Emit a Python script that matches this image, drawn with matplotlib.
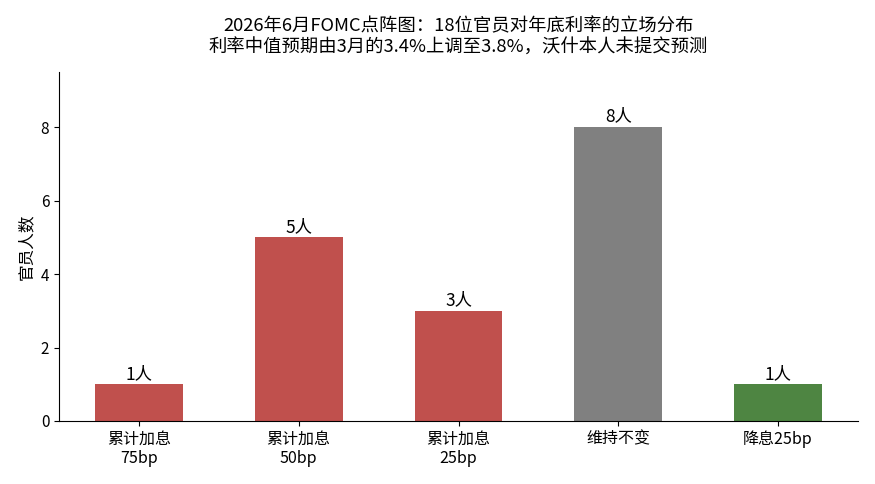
import matplotlib
matplotlib.use("Agg")
import matplotlib.pyplot as plt

plt.rcParams['font.family'] = ['Noto Sans CJK SC', 'DejaVu Sans']

categories = ["累计加息\n75bp", "累计加息\n50bp", "累计加息\n25bp", "维持不变", "降息25bp"]
counts = [1, 5, 3, 8, 1]
colors = ["#C0504D", "#C0504D", "#C0504D", "#808080", "#4E8542"]
bar_labels = [f"{c}人" for c in counts]
title = "2026年6月FOMC点阵图：18位官员对年底利率的立场分布\n利率中值预期由3月的3.4%上调至3.8%，沃什本人未提交预测"

fig = plt.figure(figsize=(8.75, 4.84), dpi=100)
ax = fig.add_axes([0.0674, 0.1302, 0.9132, 0.721])
x = list(range(len(categories)))
bars = ax.bar(x, counts, width=0.55, color=colors)
for b, lab in zip(bars, bar_labels):
    ax.text(b.get_x() + b.get_width() / 2, b.get_height() + 0.04, lab,
            ha='center', va='bottom', fontsize=12.5)
ax.set_xticks(x)
ax.set_xticklabels(categories, fontsize=11.5, linespacing=1.2)
ax.set_xlim(-0.5, 4.5)
ax.set_ylim(0, 9.5)
ax.set_yticks([0, 2, 4, 6, 8])
ax.tick_params(axis='y', labelsize=11)
ax.set_ylabel("官员人数", fontsize=12)
ax.spines['top'].set_visible(False)
ax.spines['right'].set_visible(False)
ax.set_title(title, fontsize=13.2, linespacing=1.2, pad=14)
fig.savefig("out.png", dpi=100)
